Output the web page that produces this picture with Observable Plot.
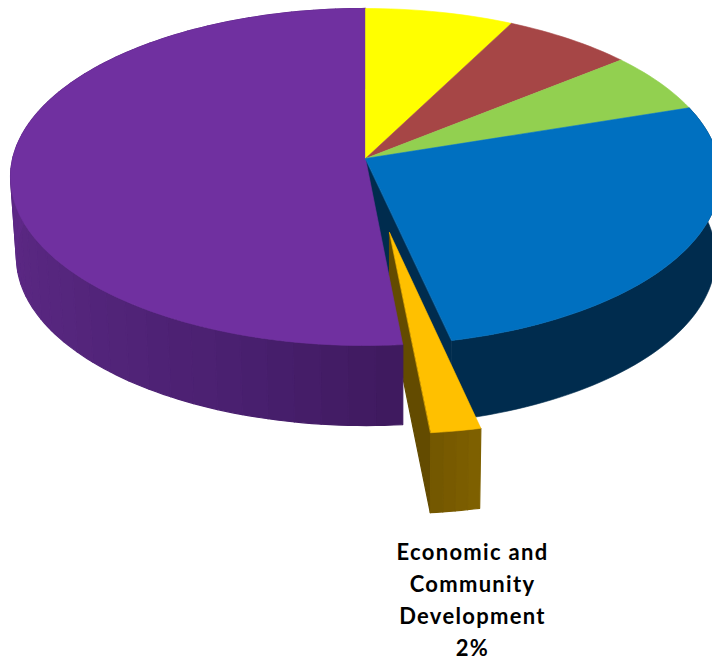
<!DOCTYPE html>
<html>
<head>
<meta charset="utf-8">
<script src="https://cdn.jsdelivr.net/npm/d3@7"></script>
<script src="https://cdn.jsdelivr.net/npm/@observablehq/plot@0.6"></script>
<style>
  html, body { margin: 0; padding: 0; background: #fff; }
  svg { display: block; }
  svg text { letter-spacing: 1.3px; }
</style>
</head>
<body>
<div id="chart"></div>
<script>
// Shares of the whole, clockwise from twelve o'clock.
const categories = ["Yellow share", "Red share", "Green share", "Blue share", "Economic and Community Development", "Purple share"];
const shares = [7.5, 6.6, 5.8, 26.6, 2, 51.5];
const faceColors = ["#ffff00", "#a64646", "#92d050", "#0070c0", "#ffc000", "#7030a0"];
const labelLines = ["Economic and", "Community", "Development", "2%"];

// Tilted-disc projection parameters.
const cx = 365, cy = 158, A = 352.8, B = 166.5, k = 0.1098;
const depth = 80, vanishX = 400, floorScale = 0.985;
// The pulled-out slice.
const pull = 0.429, pullAngle = 171.3, pulledRadius = 0.975;

const rad = (a) => (a * Math.PI) / 180;

function project(u, v) {
  const w = 1 + k * v;
  return {x: cx + (A * u) / w, y: cy - (B * v) / w};
}
const lower = (p) => ({x: vanishX + (p.x - vanishX) * floorScale, y: p.y + depth});

function rim(a, r = 1, ou = 0, ov = 0) {
  return project(ou + r * Math.sin(rad(a)), ov + r * Math.cos(rad(a)));
}

function arc(a0, a1, r, ou, ov) {
  const n = Math.max(2, Math.ceil((a1 - a0) / 1.5));
  return d3.range(n + 1).map((i) => rim(a0 + ((a1 - a0) * i) / n, r, ou, ov));
}

let run = 0;
const slices = shares.map((s, i) => {
  const a0 = run * 3.6;
  run += s;
  return {name: categories[i], a0, a1: run * 3.6, color: faceColors[i]};
});
const [yellow, red, green, blue, econ, purple] = slices;

let polyId = 0;
function polys(list) {
  return list.flatMap(({pts, color}) => {
    const id = polyId++;
    return pts.map((p) => ({...p, id, color}));
  });
}

function face(s, r = 1, ou = 0, ov = 0) {
  return {pts: [project(ou, ov), ...arc(s.a0, s.a1, r, ou, ov)], color: s.color};
}

// Outer wall cut into vertical bands; shade() gives each band its colour.
function wallBands(a0, a1, step, shade, r = 1, ou = 0, ov = 0) {
  const out = [];
  for (let a = a0; a < a1 - 1e-6; a += step) {
    const b = Math.min(a + step, a1);
    const top = arc(a, b, r, ou, ov);
    out.push({pts: [...top, ...top.map(lower).reverse()], color: shade((a + b) / 2)});
  }
  return out;
}

const purpleShade = d3.scaleLinear().domain([175, 200, 235, 285]).range(["#3e1a5e", "#4a2070", "#56267e", "#60298a"]).clamp(true);
const orangeShade = d3.scaleLinear().domain([168, 175]).range(["#7f6000", "#725600"]).clamp(true);

const ou = pull * Math.sin(rad(pullAngle));
const ov = pull * Math.cos(rad(pullAngle));
const hinge = project(0, 0);
const blueEdge = rim(blue.a1);
const pulledApex = project(ou, ov);
const pulledLeft = rim(econ.a1, pulledRadius, ou, ov);

const layer = (list, strokeWidth = 0.6) => Plot.line(polys(list), {
  x: "x", y: "y", z: "id", fill: "color", stroke: "color",
  strokeWidth, curve: "linear-closed", clip: "frame"
});

const chart = Plot.plot({
  width: 712,
  height: 660,
  margin: 0,
  x: {domain: [0, 712], range: [0, 712], axis: null},
  y: {domain: [0, 660], range: [0, 660], axis: null},
  color: {type: "identity"},
  marks: [
    // Walls of the blue slice, including the cut face behind the gap.
    layer([
      {pts: [hinge, blueEdge, lower(blueEdge), lower(hinge)], color: "#002c4e"},
      ...wallBands(blue.a0, blue.a1, blue.a1 - blue.a0, () => "#002c4e")
    ]),
    // Walls of the pulled-out slice.
    layer([
      {pts: [pulledApex, pulledLeft, lower(pulledLeft), lower(pulledApex)], color: "#634b00"},
      ...wallBands(econ.a0, econ.a1, 1.8, orangeShade, pulledRadius, ou, ov)
    ], 1.2),
    // Purple wall and the flat tops.
    layer(wallBands(purple.a0, purple.a1, 4, purpleShade), 1.2),
    layer([face(purple), face(yellow), face(red), face(green), face(blue)]),
    layer([face(econ, pulledRadius, ou, ov)]),
    Plot.text([labelLines.join("\n")], {
      x: () => 472, y: () => 537, text: (d) => d,
      lineAnchor: "top", lineHeight: 1.4545,
      fontFamily: "Lato", fontWeight: 700, fontSize: 22, fill: "#000"
    })
  ]
});
document.getElementById("chart").append(chart);
</script>
</body>
</html>
